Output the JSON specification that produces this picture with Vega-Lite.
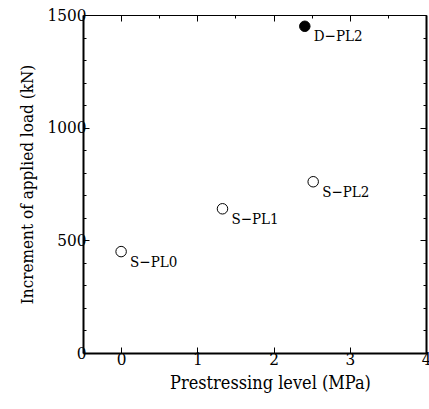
{
  "$schema": "https://vega.github.io/schema/vega-lite/v6.json",
  "width": 343,
  "height": 338,
  "autosize": "none",
  "padding": {"left": 83, "top": 15, "right": 3, "bottom": 56},
  "background": "white",
  "config": {
    "font": "DejaVu Serif Condensed",
    "view": {"stroke": null},
    "axis": {
      "domainColor": "black",
      "domainWidth": 2,
      "tickColor": "black",
      "tickWidth": 1,
      "grid": false,
      "labelFont": "DejaVu Serif Condensed",
      "labelFontSize": 17,
      "labelColor": "black",
      "titleFont": "DejaVu Serif Condensed",
      "titleFontSize": 17,
      "titleFontWeight": "normal",
      "titleColor": "black"
    }
  },
  "data": {
    "values": [
      {"name": "S\u2212PL0", "level": 0, "load": 450, "series": "S"},
      {"name": "S\u2212PL1", "level": 1.33, "load": 640, "series": "S"},
      {"name": "S\u2212PL2", "level": 2.52, "load": 760, "series": "S"},
      {"name": "D\u2212PL2", "level": 2.41, "load": 1450, "series": "D"}
    ]
  },
  "layer": [
    {
      "mark": {"type": "point", "shape": "circle", "size": 110, "strokeWidth": 1, "stroke": "black", "opacity": 1},
      "encoding": {
        "x": {
          "field": "level", "type": "quantitative",
          "scale": {"domain": [-0.5, 4], "nice": false, "zero": false},
          "axis": {
            "orient": "bottom",
            "title": "Prestressing level (MPa)",
            "titleFontSize": 18,
            "titleX": 187,
            "titleAlign": "center",
            "values": [0, 0.5, 1, 1.5, 2, 2.5, 3, 3.5, 4],
            "format": "d",
            "labelExpr": "datum.value % 1 === 0 ? datum.label : ''",
            "tickSize": {"condition": {"test": "datum.value % 1 === 0", "value": -6}, "value": -3},
            "labelPadding": 4,
            "titlePadding": 7,
            "labelFlush": false,
            "labelOverlap": false
          }
        },
        "y": {
          "field": "load", "type": "quantitative",
          "scale": {"domain": [0, 1500], "nice": false},
          "axis": {
            "orient": "left",
            "title": "Increment of applied load (kN)",
            "values": [0, 100, 200, 300, 400, 500, 600, 700, 800, 900, 1000, 1100, 1200, 1300, 1400, 1500],
            "labelExpr": "datum.value % 500 === 0 ? datum.label : ''",
            "tickSize": {"condition": {"test": "datum.value % 500 === 0", "value": -6}, "value": -3},
            "labelPadding": 3,
            "titlePadding": 11,
            "labelFlush": false,
            "labelOverlap": false,
            "format": "d"
          }
        },
        "fill": {
          "field": "series", "type": "nominal",
          "scale": {"domain": ["S", "D"], "range": ["white", "black"]},
          "legend": null
        }
      }
    },
    {
      "mark": {"type": "text", "align": "left", "baseline": "alphabetic", "dx": 9, "dy": 15, "fontSize": 15, "font": "DejaVu Serif Condensed", "color": "black"},
      "encoding": {
        "x": {
          "field": "level", "type": "quantitative",
          "scale": {"domain": [-0.5, 4], "nice": false, "zero": false},
          "axis": {
            "orient": "top",
            "title": null,
            "values": [0, 0.5, 1, 1.5, 2, 2.5, 3, 3.5, 4],
            "labels": false,
            "domainWidth": 1,
            "tickSize": {"condition": {"test": "datum.value % 1 === 0", "value": -6}, "value": -3}
          }
        },
        "y": {
          "field": "load", "type": "quantitative",
          "scale": {"domain": [0, 1500], "nice": false},
          "axis": {
            "orient": "right",
            "title": null,
            "values": [0, 100, 200, 300, 400, 500, 600, 700, 800, 900, 1000, 1100, 1200, 1300, 1400, 1500],
            "labels": false,
            "tickSize": {"condition": {"test": "datum.value % 500 === 0", "value": -6}, "value": -3}
          }
        },
        "text": {"field": "name"}
      }
    }
  ],
  "resolve": {"axis": {"x": "independent", "y": "independent"}}
}
